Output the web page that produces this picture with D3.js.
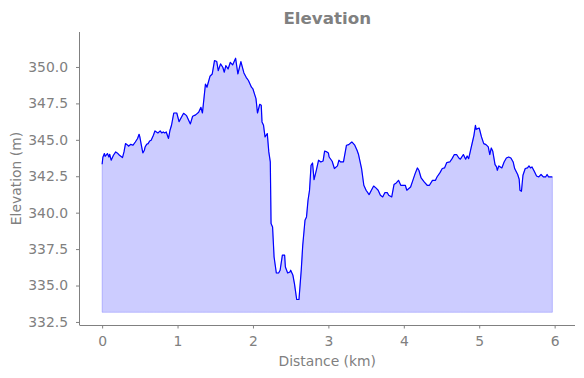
<!DOCTYPE html>
<html>
<head>
<meta charset="utf-8">
<style>
  body { margin: 0; background: #fff; }
  svg { display: block; font-family: "DejaVu Sans", sans-serif; }
  .axis path, .axis line { stroke: #808080; }
  .axis text { fill: #808080; font-size: 13.9px; }
</style>
</head>
<body>
<svg width="584" height="378"></svg>
<script src="https://d3js.org/d3.v7.min.js"></script>
<script>

// distance along the track (km)
var distanceKm = [
  0.00, 0.01, 0.03, 0.04, 0.07, 0.09, 0.10, 0.12, 0.15, 0.18,
  0.20, 0.23, 0.27, 0.29, 0.31, 0.34, 0.35, 0.38, 0.41, 0.44,
  0.47, 0.49, 0.50, 0.52, 0.54, 0.56, 0.57, 0.59, 0.61, 0.63,
  0.65, 0.68, 0.70, 0.72, 0.74, 0.77, 0.79, 0.81, 0.83, 0.85,
  0.88, 0.90, 0.92, 0.95, 0.99, 1.02, 1.08, 1.12, 1.17, 1.20,
  1.24, 1.28, 1.31, 1.33, 1.37, 1.39, 1.43, 1.46, 1.49, 1.52,
  1.54, 1.57, 1.60, 1.62, 1.64, 1.67, 1.70, 1.73, 1.77, 1.80,
  1.84, 1.88, 1.91, 1.94, 1.98, 2.00, 2.02, 2.04, 2.06, 2.09,
  2.11, 2.12, 2.14, 2.16, 2.19, 2.21, 2.23, 2.24, 2.26, 2.28,
  2.31, 2.34, 2.36, 2.39, 2.42, 2.43, 2.46, 2.49, 2.50, 2.53,
  2.55, 2.58, 2.61, 2.64, 2.66, 2.69, 2.71, 2.73, 2.75, 2.77,
  2.79, 2.81, 2.84, 2.87, 2.90, 2.93, 2.95, 2.98, 3.00, 3.01,
  3.05, 3.08, 3.12, 3.14, 3.16, 3.20, 3.24, 3.27, 3.31, 3.32,
  3.35, 3.38, 3.40, 3.44, 3.47, 3.50, 3.54, 3.57, 3.60, 3.63,
  3.66, 3.69, 3.72, 3.75, 3.78, 3.80, 3.84, 3.87, 3.90, 3.93,
  3.96, 3.99, 4.02, 4.04, 4.09, 4.12, 4.15, 4.18, 4.20, 4.23,
  4.27, 4.31, 4.34, 4.38, 4.42, 4.44, 4.48, 4.51, 4.54, 4.57,
  4.61, 4.64, 4.67, 4.70, 4.73, 4.75, 4.79, 4.82, 4.84, 4.86,
  4.89, 4.91, 4.93, 4.95, 4.96, 4.98, 5.00, 5.03, 5.06, 5.09,
  5.12, 5.14, 5.16, 5.18, 5.21, 5.23, 5.24, 5.26, 5.30, 5.33,
  5.36, 5.39, 5.42, 5.45, 5.47, 5.51, 5.53, 5.54, 5.56, 5.58,
  5.61, 5.64, 5.66, 5.68, 5.70, 5.73, 5.76, 5.79, 5.82, 5.85,
  5.88, 5.90, 5.92, 5.95, 5.97
];

// elevation (m)
var elevationM = [
  343.32, 343.80, 344.06, 343.87, 344.06, 343.82, 344.01, 343.60, 343.94, 344.17,
  344.10, 343.94, 343.78, 344.17, 344.74, 344.63, 344.56, 344.69, 344.63, 344.85,
  345.09, 345.38, 345.20, 344.63, 344.10, 344.28, 344.51, 344.69, 344.74, 344.92,
  344.97, 345.31, 345.61, 345.54, 345.47, 345.61, 345.47, 345.54, 345.47, 345.54,
  345.09, 345.66, 346.00, 346.84, 346.84, 346.25, 346.82, 346.66, 346.09, 346.62,
  346.71, 346.89, 347.23, 346.84, 348.83, 348.61, 349.36, 349.52, 350.44, 350.37,
  349.75, 350.21, 349.98, 349.64, 350.10, 349.86, 350.32, 350.14, 350.60, 349.52,
  350.37, 349.59, 349.29, 349.07, 348.61, 348.49, 348.15, 347.83, 346.84, 347.44,
  347.37, 346.23, 346.00, 345.20, 345.43, 344.17, 343.48, 339.25, 339.02, 336.96,
  335.86, 335.86, 336.05, 337.08, 337.08, 336.27, 335.86, 335.93, 336.05, 335.70,
  335.13, 334.04, 334.04, 336.05, 337.76, 339.48, 339.71, 340.85, 341.54, 343.25,
  343.41, 342.27, 342.91, 343.60, 343.48, 343.55, 344.23, 344.17, 344.10, 343.82,
  343.53, 343.03, 343.21, 343.60, 343.48, 343.48, 344.63, 344.67, 344.85, 344.81,
  344.63, 344.28, 343.99, 343.03, 341.88, 341.54, 341.24, 341.54, 341.83, 341.70,
  341.54, 341.19, 341.08, 341.38, 341.38, 341.19, 341.08, 341.93, 342.04, 342.22,
  341.88, 341.88, 341.88, 341.54, 341.76, 342.22, 342.68, 343.07, 342.91, 342.38,
  342.11, 341.88, 341.88, 342.22, 342.22, 342.45, 342.75, 343.03, 343.07, 343.44,
  343.48, 343.71, 343.99, 343.99, 343.75, 343.67, 343.99, 343.67, 343.89, 343.71,
  344.40, 344.85, 345.31, 346.00, 345.72, 345.77, 345.81, 345.20, 344.74, 344.67,
  344.51, 343.99, 344.44, 344.21, 343.30, 343.14, 342.91, 343.21, 343.07, 343.48,
  343.75, 343.82, 343.75, 343.48, 343.03, 342.62, 342.29, 341.54, 341.47, 342.57,
  343.03, 343.07, 343.21, 343.07, 343.14, 342.84, 342.52, 342.45, 342.62, 342.45,
  342.45, 342.62, 342.45, 342.45, 342.45
];

// floor of the shaded area (m)
var fillFloor = 333.16;

var xTicks = [0, 1, 2, 3, 4, 5, 6];
var yTicks = [332.5, 335.0, 337.5, 340.0, 342.5, 345.0, 347.5, 350.0];

var svg = d3.select("svg"),
    plotLeft = 79.5, plotRight = 575, plotTop = 32, plotBottom = 325;

var x = d3.scaleLinear().domain([-0.30, 6.27]).range([plotLeft, plotRight]);
var y = d3.scaleLinear().domain([332.29, 352.4]).range([plotBottom, plotTop]);

var data = distanceKm.map(function(d, i) { return {km: d, elev: elevationM[i]}; });

var area = d3.area()
  .x(function(d) { return x(d.km); })
  .y0(y(fillFloor))
  .y1(function(d) { return y(d.elev); });

var line = d3.line()
  .x(function(d) { return x(d.km); })
  .y(function(d) { return y(d.elev); });

svg.append("path")
  .datum(data)
  .attr("d", area)
  .attr("fill", "#0000ff")
  .attr("fill-opacity", 0.2)
  .attr("stroke", "#0000ff")
  .attr("stroke-opacity", 0.2)
  .attr("stroke-width", 1);

svg.append("path")
  .datum(data)
  .attr("d", line)
  .attr("fill", "none")
  .attr("stroke", "#0000ff")
  .attr("stroke-width", 1.2)
  .attr("stroke-linejoin", "round");

// axes
svg.append("g")
  .attr("class", "axis")
  .attr("transform", "translate(0," + plotBottom + ")")
  .call(d3.axisBottom(x).tickValues(xTicks).tickFormat(d3.format("d"))
    .tickSize(3.5).tickPadding(8).tickSizeOuter(0))
  .call(function(g) { g.select(".domain").attr("d", "M" + plotLeft + ",0.5H" + plotRight); });

svg.append("g")
  .attr("class", "axis")
  .attr("transform", "translate(" + plotLeft + ",0)")
  .call(d3.axisLeft(y).tickValues(yTicks).tickFormat(d3.format(".1f"))
    .tickSize(3.5).tickPadding(8).tickSizeOuter(0))
  .call(function(g) { g.select(".domain").attr("d", "M0," + plotTop + "V" + plotBottom); });

svg.selectAll(".axis text").attr("font-family", "DejaVu Sans, sans-serif");

// labels
svg.append("text")
  .attr("x", (plotLeft + plotRight) / 2)
  .attr("y", 24)
  .attr("text-anchor", "middle")
  .attr("fill", "#808080")
  .attr("font-weight", "bold")
  .attr("font-size", "16.7px")
  .text("Elevation");

svg.append("text")
  .attr("x", (plotLeft + plotRight) / 2)
  .attr("y", 366)
  .attr("text-anchor", "middle")
  .attr("fill", "#808080")
  .attr("font-size", "13.9px")
  .text("Distance (km)");

svg.append("text")
  .attr("transform", "translate(21," + (plotTop + plotBottom) / 2 + ") rotate(-90)")
  .attr("text-anchor", "middle")
  .attr("fill", "#808080")
  .attr("font-size", "13.9px")
  .text("Elevation (m)");

</script>
</body>
</html>
